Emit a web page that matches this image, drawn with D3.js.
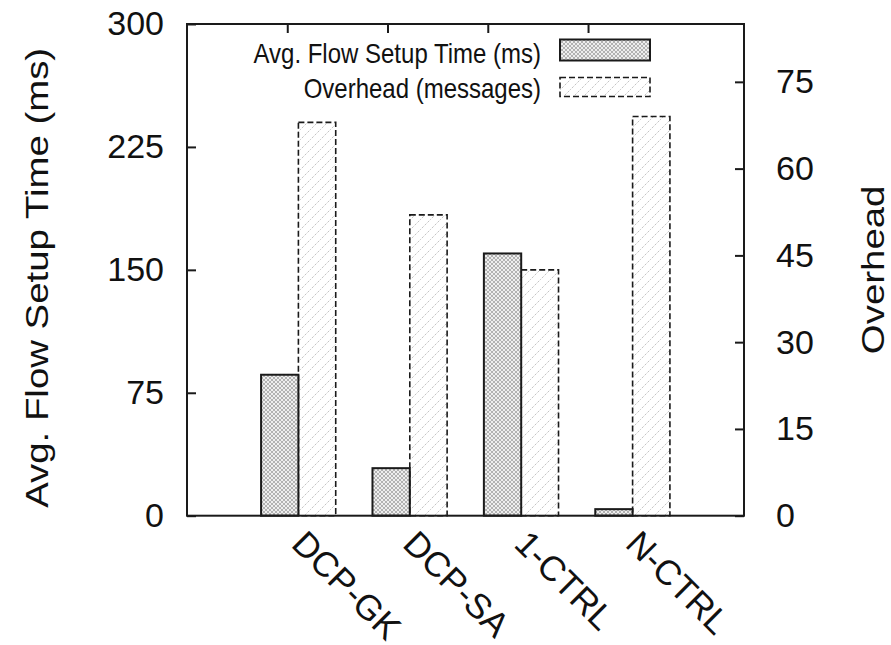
<html>
<head>
<meta charset="UTF-8"/>
<script src="https://cdn.jsdelivr.net/npm/d3@7"></script>
<style>
body { margin: 0; background: #fff; }
text { font-family: "Liberation Sans", Arial, Helvetica, sans-serif; fill: #111; }
</style>
</head>
<body>
<script>
// data
const categories = ["DCP-GK", "DCP-SA", "1-CTRL", "N-CTRL"];
const setupTime = [86, 29, 160, 4];       // ms, left axis
const overhead = [68, 52, 42.5, 69];      // messages, right axis
const leftTicks = [0, 75, 150, 225, 300];
const rightTicks = [0, 15, 30, 45, 60, 75];
const topTicks = [-0.1, 0.8, 1.7, 2.6];   // mirrored ticks on the top border
const legendLabels = ["Avg. Flow Setup Time (ms)", "Overhead (messages)"];

const width = 891, height = 645;
const plotL = 187, plotR = 744, plotT = 24, plotB = 515.7;
const barW = 0.335;   // in category units
const ink = "#1a1a1a";

var svg = d3.select("body").append("svg")
	.attr("width", width)
	.attr("height", height);

// patterns
var defs = svg.append("defs");
var xh = defs.append("pattern")
	.attr("id", "xh")
	.attr("patternUnits", "userSpaceOnUse")
	.attr("width", 4).attr("height", 4);
xh.append("rect").attr("width", 4).attr("height", 4).attr("fill", "#eeeeee");
xh.append("path").attr("d", "M0,0L4,4M4,0L0,4")
	.attr("stroke", "#a2a2a2").attr("stroke-width", 0.8);

var dh = defs.append("pattern")
	.attr("id", "dh")
	.attr("patternUnits", "userSpaceOnUse")
	.attr("width", 10).attr("height", 10);
dh.append("rect").attr("width", 10).attr("height", 10).attr("fill", "#fff");
dh.append("path").attr("d", "M-1,11L11,-1M-6,6L6,-6M4,16L16,4")
	.attr("stroke", "#c4c4c4").attr("stroke-width", 1)
	.attr("stroke-dasharray", "2.5,1.5");

// scales
var x = d3.scaleLinear().domain([-1, 4]).range([plotL, plotR]);
var yL = d3.scaleLinear().domain([0, 300]).range([plotB, plotT]);
var yR = d3.scaleLinear().domain([0, 85]).range([plotB, plotT]);

// bars: overhead first, setup time on top so its solid edge stays
svg.append("g").selectAll("rect")
	.data(overhead)
	.enter().append("rect")
	.attr("x", (d, i) => x(i))
	.attr("width", x(barW) - x(0))
	.attr("y", d => yR(d))
	.attr("height", d => plotB - yR(d))
	.attr("fill", "url(#dh)")
	.attr("stroke", ink)
	.attr("stroke-width", 1.6)
	.attr("stroke-dasharray", "6,3");

svg.append("g").selectAll("rect")
	.data(setupTime)
	.enter().append("rect")
	.attr("x", (d, i) => x(i - barW))
	.attr("width", x(barW) - x(0))
	.attr("y", d => yL(d))
	.attr("height", d => plotB - yL(d))
	.attr("fill", "url(#xh)")
	.attr("stroke", ink)
	.attr("stroke-width", 2);

// axes
var gl = svg.append("g")
	.attr("transform", "translate(" + plotL + ",0)")
	.call(d3.axisLeft(yL).tickValues(leftTicks).tickSizeInner(-9).tickSizeOuter(0).tickPadding(23));

var gr = svg.append("g")
	.attr("transform", "translate(" + plotR + ",0)")
	.call(d3.axisRight(yR).tickValues(rightTicks).tickSizeInner(-9).tickSizeOuter(0).tickPadding(32));

var gt = svg.append("g")
	.attr("transform", "translate(0," + plotT + ")")
	.call(d3.axisTop(x).tickValues(topTicks).tickSizeInner(-9).tickSizeOuter(0).tickFormat(""));

var gb = svg.append("g")
	.attr("transform", "translate(0," + plotB + ")")
	.call(d3.axisBottom(x).tickValues([0, 1, 2, 3]).tickSize(0).tickFormat(i => categories[i]));

[gl, gr, gt, gb].forEach(g => {
	g.attr("font-family", null).attr("font-size", null);
	g.select(".domain").remove();
	g.selectAll("line").attr("stroke", ink).attr("stroke-width", 2);
	g.selectAll("text").attr("font-size", 34).attr("fill", "#111");
});

gb.selectAll("text")
	.attr("font-size", 35)
	.attr("text-anchor", "start")
	.attr("dy", null)
	.attr("y", null)
	.attr("transform", "translate(-9,30) rotate(45)");

// frame
svg.append("rect")
	.attr("x", plotL).attr("y", plotT)
	.attr("width", plotR - plotL).attr("height", plotB - plotT)
	.attr("fill", "none")
	.attr("stroke", ink)
	.attr("stroke-width", 2);

// axis titles
svg.append("text")
	.attr("transform", "translate(48," + ((plotT + plotB) / 2 + 8) + ") rotate(-90) scale(1.2,1)")
	.attr("text-anchor", "middle")
	.attr("font-size", 32)
	.text("Avg. Flow Setup Time (ms)");

svg.append("text")
	.attr("transform", "translate(884," + ((plotT + plotB) / 2) + ") rotate(-90) scale(1.2,1)")
	.attr("text-anchor", "middle")
	.attr("font-size", 32)
	.text("Overhead");

// legend
var legend = svg.append("g");
var rowsY = [63, 97.5];
legend.selectAll("text")
	.data(legendLabels)
	.enter().append("text")
	.attr("transform", (d, i) => "translate(541," + rowsY[i] + ") scale(1,1.17)")
	.attr("text-anchor", "end")
	.attr("font-size", 24)
	.text(d => d);

legend.append("rect")
	.attr("x", 560).attr("y", 39.5).attr("width", 90).attr("height", 21)
	.attr("fill", "url(#xh)").attr("stroke", ink).attr("stroke-width", 2);
legend.append("rect")
	.attr("x", 560).attr("y", 77.5).attr("width", 90).attr("height", 19)
	.attr("fill", "url(#dh)").attr("stroke", ink).attr("stroke-width", 1.6)
	.attr("stroke-dasharray", "6,3");
</script>
</body>
</html>
